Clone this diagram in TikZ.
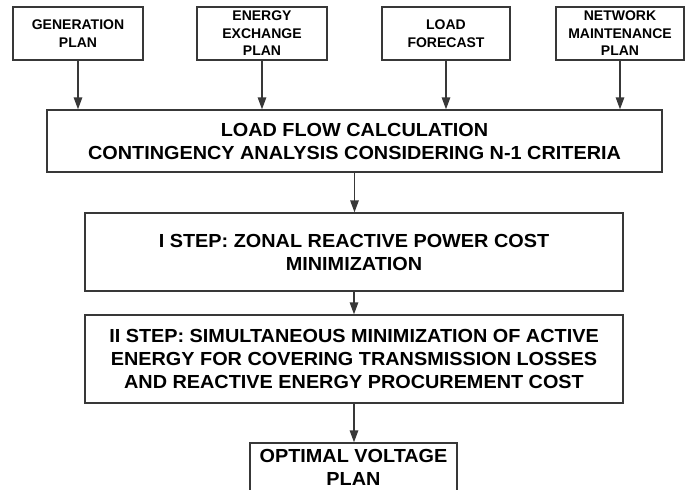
\documentclass[tikz,border=0pt]{standalone}
\usepackage{fontspec}
\setmainfont{Liberation Sans}
\newfontfamily\bigfont{Liberation Sans}[FakeStretch=1.05]
\usetikzlibrary{arrows.meta}
\tikzset{
  box/.style={draw=black!78, line width=1.4pt, inner sep=0pt, align=center},
  topbox/.style={box, minimum width=#1, minimum height=53pt, font=\fontsize{14}{17.5}\selectfont\bfseries},
  bigbox/.style={box, font=\bigfont\fontsize{18.9}{23}\selectfont\bfseries},
  arr/.style={draw=black!78, line width=1.4pt, -{Triangle[width=8.5pt,length=12pt]}}
}
\begin{document}
\begin{tikzpicture}[x=1pt,y=-1pt]
\useasboundingbox (0,0) rectangle (686,490);
\node[topbox=130pt] (gen) at (78,33.5) {GENERATION\\PLAN};
\node[topbox=130pt] (exc) at (262,33.5) {ENERGY\\EXCHANGE\\PLAN};
\node[topbox=128pt] (lf) at (446,33.5) {LOAD\\FORECAST};
\node[topbox=128pt] (net) at (620,33.5) {NETWORK\\MAINTENANCE\\PLAN};
\node[bigbox, minimum width=615pt, minimum height=62pt] (main) at (354.5,141) {LOAD FLOW CALCULATION\\CONTINGENCY ANALYSIS CONSIDERING N-1 CRITERIA};
\node[bigbox, minimum width=538pt, minimum height=78pt] (s1) at (354,252) {I STEP: ZONAL REACTIVE POWER COST\\MINIMIZATION};
\node[bigbox, minimum width=538pt, minimum height=88pt] (s2) at (354,359) {II STEP: SIMULTANEOUS MINIMIZATION OF ACTIVE\\ENERGY FOR COVERING TRANSMISSION LOSSES\\AND REACTIVE ENERGY PROCUREMENT COST};
\node[bigbox, minimum width=207pt, minimum height=49pt] (out) at (353.5,467.5) {OPTIMAL VOLTAGE\\PLAN};
\draw[arr] (gen.south) -- (gen.south |- main.north);
\draw[arr] (exc.south) -- (exc.south |- main.north);
\draw[arr] (lf.south) -- (lf.south |- main.north);
\draw[arr] (net.south) -- (net.south |- main.north);
\draw[arr] (main.south) -- (main.south |- s1.north);
\draw[arr] (s1.south) -- (s1.south |- s2.north);
\draw[arr] (s2.south) -- (s2.south |- out.north);
\end{tikzpicture}
\end{document}
